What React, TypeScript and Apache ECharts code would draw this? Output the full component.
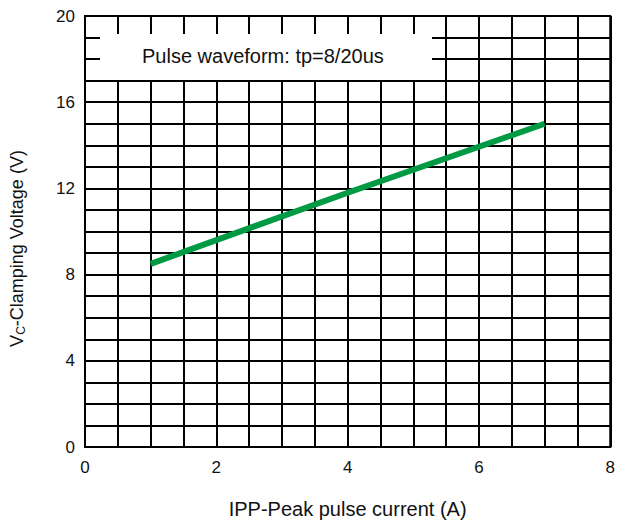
import React, { useEffect, useRef } from "react";
import * as echarts from "echarts";

const currentA = [1, 4, 7];
const clampV = [8.5, 11.8, 15.0];
const xTickLabels = ["0", "2", "4", "6", "8"];
const yTickLabels = ["0", "4", "8", "12", "16", "20"];
const boxText = "Pulse waveform: tp=8/20us";
const xTitle = "IPP-Peak pulse current (A)";

const FONT = "'Liberation Sans', Arial, sans-serif";

export default function App() {
  const ref = useRef<HTMLDivElement>(null);
  useEffect(() => {
    if (!ref.current) return;
    const chart = echarts.init(ref.current, null, { renderer: "svg" });
    const option = {
      animation: false,
      backgroundColor: "#fff",
      textStyle: { fontFamily: FONT },
      grid: {
        left: 85,
        right: 7,
        top: 16,
        bottom: 73,
        containLabel: false,
        show: true,
        borderColor: "#000",
        borderWidth: 2,
      },
      xAxis: {
        type: "value",
        min: 0,
        max: 8,
        interval: 0.5,
        name: xTitle,
        nameLocation: "middle",
        nameGap: 52,
        nameTextStyle: { color: "#111", fontSize: 20, fontFamily: FONT },
        axisLine: { show: true, lineStyle: { color: "#000", width: 2 } },
        axisTick: { show: false },
        axisLabel: {
          color: "#111",
          fontSize: 17,
          fontFamily: FONT,
          margin: 12,
          formatter: (v: number) => {
            const s = String(v);
            return xTickLabels.includes(s) ? s : "";
          },
        },
        splitLine: { show: true, lineStyle: { color: "#000", width: 2 } },
      },
      yAxis: {
        type: "value",
        min: 0,
        max: 20,
        interval: 1,
        name: "{a|V}{sub|C}{a|-Clamping Voltage (V)}",
        nameLocation: "middle",
        nameGap: 58,
        nameTextStyle: {
          color: "#111",
          fontSize: 18,
          fontFamily: FONT,
          padding: [0, 34, 0, 0],
          rich: {
            a: { fontSize: 18, fontFamily: FONT, color: "#111" },
            sub: { fontSize: 12, fontFamily: FONT, color: "#111", padding: [8, 0, 0, 0] },
          },
        },
        axisLine: { show: true, lineStyle: { color: "#000", width: 2 } },
        axisTick: { show: false },
        axisLabel: {
          color: "#111",
          fontSize: 17,
          fontFamily: FONT,
          margin: 10,
          formatter: (v: number) => {
            const s = String(v);
            return yTickLabels.includes(s) ? s : "";
          },
        },
        splitLine: { show: true, lineStyle: { color: "#000", width: 2 } },
      },
      graphic: [
        {
          type: "rect",
          left: 100,
          top: 34,
          z: 10,
          shape: { width: 332, height: 46 },
          style: { fill: "#fff" },
        },
        {
          type: "text",
          left: 142,
          top: 46,
          z: 11,
          style: { text: boxText, fill: "#111", fontSize: 20, fontFamily: FONT },
        },
      ],
      series: [
        {
          type: "line",
          data: currentA.map((x, i) => [x, clampV[i]]),
          symbol: "none",
          lineStyle: { color: "#009a44", width: 6 },
          z: 5,
        },
      ],
    };
    chart.setOption(option);
    return () => chart.dispose();
  }, []);
  return (
    <div
      ref={ref}
      style={{ position: "fixed", left: 0, top: 0, width: 618, height: 524 }}
    />
  );
}
